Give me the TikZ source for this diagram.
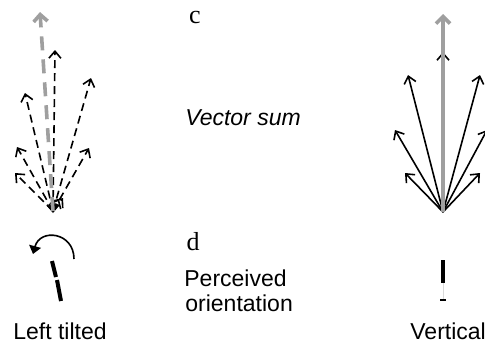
\documentclass[tikz,border=0pt]{standalone}
\usepackage{fontspec}
\setmainfont{Liberation Sans}
\newfontfamily\letterfont{Liberation Serif}
\usetikzlibrary{arrows.meta}
\tikzset{vec/.style={thick, -{Straight Barb[length=3.5pt,width=6pt]}},
         sumvec/.style={line width=1.8pt, gray!75, -{Straight Barb[length=3.5pt,width=7pt]}},
         lbl/.style={inner sep=0pt, font=\fontsize{11.5}{13}\selectfont},
         bar/.style={line width=2pt}}

\begin{document}
\begin{tikzpicture}[x=0.5pt,y=-0.5pt]
                    \useasboundingbox (0,0) rectangle (485,349);
                    % left tilted: vectors
                    \coordinate (lo) at (53,211);
                    \foreach \tx/\ty[count=\n] in {55/50,25/93,91/78,17/147,89/148,15/173,59/199,63/198}{
                        \coordinate (lt\n) at (\tx,\ty);
                        \draw[vec,dashed,dash pattern=on 4pt off 2.5pt] (lo) -- (lt\n);
                        }
                        \coordinate (ld) at (53,213);
                        \draw[vec] (53,205) coordinate (lu) -- (ld);
                        \coordinate (lsum) at (40,12);
                        \draw[sumvec,dash pattern=on 7pt off 4.5pt] (lo) -- (lsum);

                    % vertical: vectors
                    \coordinate (ro) at (443,212);
                    \foreach \tx/\ty[count=\n] in {443/52,408/75,480/75,395/130,487/130,405/173,480/173}{
                        \coordinate (rt\n) at (\tx,\ty);
                        \draw[vec] (ro) -- (rt\n);
                        }
                        \coordinate (rsum) at (443,14);
                        \draw[sumvec] (ro) -- (rsum);

                    % texts
                    \node[lbl,font=\fontsize{13}{15}\letterfont] (c) at (195,17) {c};
                    \node[lbl,font=\fontsize{11.5}{13}\selectfont\itshape] (vsum) at (243,118) {Vector sum};
                    \node[lbl,font=\fontsize{13}{15}\letterfont] (d) at (193,242) {d};
                    \node[lbl,anchor=west] (perc) at (184,278) {Perceived};
                    \node[lbl,anchor=west] (orient) at (185,303) {orientation};
                    \node[lbl] (left) at (60,331) {Left tilted};
                    \node[lbl,anchor=west] (vert) at (410,331) {Vertical};

                    % perceived bars
                    \coordinate (rot1) at (74,259);
                    \coordinate (rot2) at (33,254);
                    \draw[thick,-{Triangle[length=4pt,width=6pt]}] (rot1) .. controls (74,232) and (40,228) .. (rot2);
                    \draw[bar] (52,261) -- (56,277);
                    \draw[bar] (57,280) -- (61,301);
                    \draw[bar] (443,260) -- (443,283) coordinate (vb);
                    \draw[gray!30,thin] (vb) -- (443,299);
                    \draw[semithick] (440,300) -- (446,300);
                \end{tikzpicture}
\end{document}
